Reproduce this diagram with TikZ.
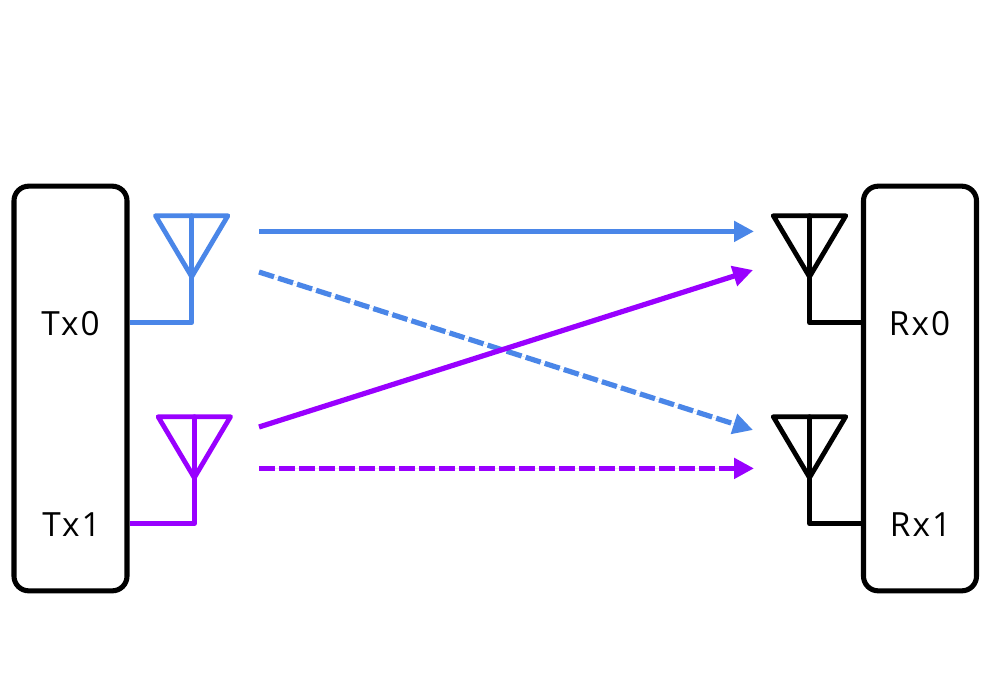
\documentclass[tikz,border=0pt]{standalone}
\usepackage{fontspec}
\setmainfont[LetterSpace=6]{Open Sans}
\usetikzlibrary{arrows.meta}
\definecolor{bluec}{HTML}{4A86E8}
\definecolor{purpc}{HTML}{9900FF}
\tikzset{
  x=0.75pt,y=-0.75pt,
  unitbox/.style={draw=black,line width=3.8pt,rounded corners=11pt,minimum width=84.75pt,minimum height=303.5pt,inner sep=0pt,fill=white},
  lab/.style={font=\fontsize{25}{25}\selectfont,anchor=base,inner sep=0pt,text=black},
  feed/.style={line width=3.6pt,line join=round,line cap=butt},
  ant/.style={line width=3.6pt,line join=round,line cap=round},
  ray/.style={line width=3.9pt,-{Triangle[length=15pt,width=15pt]},shorten >=0pt},
  dashray/.style={ray,dash pattern=on 11.8pt off 3.2pt},
}
\newcommand{\antenna}[4]{% name, stem x, top y, colour
  \coordinate (#1L) at (#2-36.2,#3);
  \coordinate (#1R) at (#2+36.2,#3);
  \coordinate (#1T) at (#2,#3);
  \coordinate (#1A) at (#2,#3+61);
  \coordinate (#1F) at (#2,#3+107);
  \draw[ant,draw=#4] (#1L) -- (#1R) -- (#1A) -- cycle;
  \draw[ant,draw=#4] (#1T) -- (#1A);
}
\begin{document}
\begin{tikzpicture}
\useasboundingbox (0,0) rectangle (1000,700);
\node[unitbox] (tx) at (70.5,388.5) {};
\node[unitbox] (rx) at (920,388.5) {};
\node[lab] (t0) at (70.5,335) {Tx0};
\node[lab] (t1) at (71.5,536) {Tx1};
\node[lab] (r0) at (919.5,335) {Rx0};
\node[lab] (r1) at (920.5,536) {Rx1};
\antenna{at}{191.7}{215.7}{bluec}
\antenna{bt}{194.3}{416.7}{purpc}
\antenna{ar}{809.5}{215.7}{black}
\antenna{br}{809.5}{416.7}{black}
\draw[feed,draw=bluec] (tx.east |- atF) -- (atF) -- (atA);
\draw[feed,draw=purpc] (tx.east |- btF) -- (btF) -- (btA);
\draw[feed,draw=black] (rx.west |- arF) -- (arF) -- (arA);
\draw[feed,draw=black] (rx.west |- brF) -- (brF) -- (brA);
\coordinate (s1) at (259,231.4); \coordinate (e1) at (754,231.4);
\coordinate (s2) at (259,272); \coordinate (e2) at (753,430);
\coordinate (s3) at (259,427); \coordinate (e3) at (753,270);
\coordinate (s4) at (259,468.4); \coordinate (e4) at (754,468.4);
\draw[ray,draw=bluec,fill=bluec] (s1) -- (e1);
\draw[dashray,draw=bluec,fill=bluec] (s2) -- (e2);
\draw[ray,draw=purpc,fill=purpc] (s3) -- (e3);
\draw[dashray,draw=purpc,fill=purpc] (s4) -- (e4);
\end{tikzpicture}
\end{document}
